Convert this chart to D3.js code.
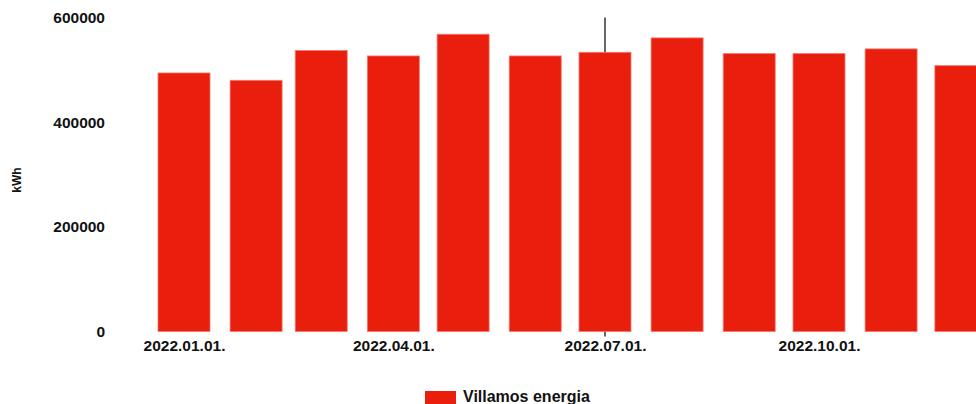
<html><head>
<script src="https://d3js.org/d3.v7.min.js"></script>
<style>
body { margin: 0; background: #fff; overflow: hidden; }
text { font-family: "Liberation Sans", Arial, sans-serif; font-weight: bold; fill: #111; }
</style>
</head>
<body>
<svg id="chart" width="976" height="404"></svg>
<script>
    // monthly consumption, kWh
    const months = ["2022-01-01","2022-02-01","2022-03-01","2022-04-01","2022-05-01","2022-06-01",
                    "2022-07-01","2022-08-01","2022-09-01","2022-10-01","2022-11-01","2022-12-01"];
    const energy = [494000, 480000, 537000, 526500, 568000, 526500, 533500, 561000, 531000, 531000, 540000, 508000];
    const xTicks = ["2022-01-01","2022-04-01","2022-07-01","2022-10-01"];
    const yTicks = [0, 200000, 400000, 600000];
    const seriesName = "Villamos energia";
    const cursorDate = "2022-07-01";

    const parse = d3.utcParse("%Y-%m-%d");
    const data = months.map((m, i) => ({ date: parse(m), value: energy[i] }));

    const svg = d3.select("#chart");

    const x = d3.scaleUtc()
        .domain([parse("2022-01-01"), parse("2022-07-01")])
        .range([184, 605]);
    const y = d3.scaleLinear()
        .domain([0, 600000])
        .range([331.5, 17.5]);
    const barWidth = 52;

    //cursor line behind the bars
    svg.append("line")
        .attr("x1", x(parse(cursorDate))).attr("x2", x(parse(cursorDate)))
        .attr("y1", y(600000)).attr("y2", y(0) + 5)
        .attr("stroke", "#000")
        .attr("stroke-width", 1.2);

    //bars
    svg.selectAll("rect.bar").data(data)
        .join("rect")
        .attr("class", "bar")
        .attr("x", d => x(d.date) - barWidth / 2)
        .attr("width", barWidth)
        .attr("y", d => y(d.value))
        .attr("height", d => y(0) - y(d.value))
        .attr("fill", "#ea1e0c")
        .attr("stroke", "#f27a6e")
        .attr("stroke-width", 0.8);

    //axes
    const xAxis = svg.append("g")
        .attr("transform", "translate(0," + y(0) + ")")
        .call(d3.axisBottom(x)
            .tickValues(xTicks.map(parse))
            .tickFormat(d3.utcFormat("%Y.%m.%d."))
            .tickSize(0)
            .tickPadding(8.5));
    xAxis.select(".domain").remove();
    xAxis.selectAll("text").attr("font-size", 15.5).attr("font-family", null).style("fill", "#111");

    const yAxis = svg.append("g")
        .attr("transform", "translate(113,0)")
        .call(d3.axisLeft(y)
            .tickValues(yTicks)
            .tickFormat(d3.format("d"))
            .tickSize(0)
            .tickPadding(8));
    yAxis.select(".domain").remove();
    yAxis.selectAll("text").attr("font-size", 15.5).attr("font-family", null).style("fill", "#111");

    svg.append("text")
        .attr("transform", "translate(21,180) rotate(-90)")
        .attr("text-anchor", "middle")
        .attr("font-size", 12)
        .text("kWh");

    //legend
    svg.append("rect")
        .attr("x", 425).attr("y", 391)
        .attr("width", 31).attr("height", 16)
        .attr("fill", "#ea1e0c");
    svg.append("text")
        .attr("x", 463).attr("y", 402)
        .attr("font-size", 16)
        .text(seriesName);
</script>
</body>
</html>
